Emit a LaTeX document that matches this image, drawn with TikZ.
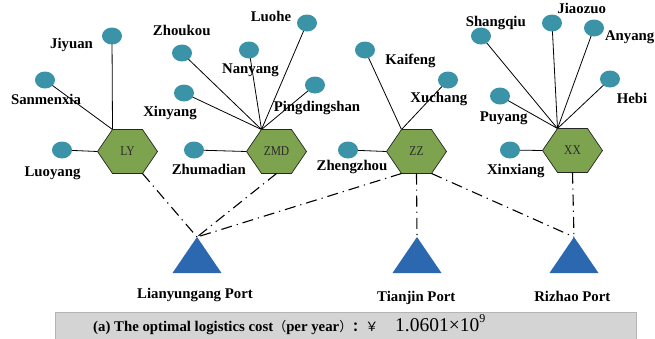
\documentclass[tikz,border=0pt]{standalone}
\usepackage{fontspec}
\setmainfont{Liberation Serif}
\newfontfamily\hexfont[FakeStretch=0.85]{Liberation Serif}
\newfontfamily\cjkfont{Noto Sans CJK SC}
\usetikzlibrary{calc,backgrounds}
\definecolor{citycol}{HTML}{3A93A7}
\definecolor{hexcol}{HTML}{7DA34F}
\definecolor{portcol}{HTML}{2C68B0}
\definecolor{boxgray}{HTML}{D4D4D4}
\definecolor{boxedge}{HTML}{B4B4B4}
\definecolor{hextext}{HTML}{2B2B2B}
\tikzset{
  city/.style={ellipse, fill=citycol, minimum width=20pt, minimum height=17pt, inner sep=0pt},
  lbl/.style={font=\bfseries\fontsize{14.8}{16}\selectfont, anchor=base, inner sep=0pt},
  hexlbl/.style={font=\hexfont\fontsize{13.5}{14}\selectfont, text=hextext, inner sep=0pt},
  hexshape/.style={fill=hexcol, draw=black!85, line width=0.7pt},
  link/.style={line width=0.8pt, black},
  route/.style={line width=1.1pt, black, dash pattern=on 11pt off 5pt on 1.2pt off 5pt},
  portshape/.style={fill=portcol},
}
\usetikzlibrary{shapes.geometric}
\begin{document}
\begin{tikzpicture}[x=1pt,y=-1pt]
\useasboundingbox (0,0) rectangle (655,338);

% hexagon centres (labels)
\node[hexlbl] (ly)  at (127.5,151.5) {LY};
\node[hexlbl] (zmd) at (276.5,151.5) {ZMD};
\node[hexlbl] (zz)  at (416.5,151.5) {ZZ};
\node[hexlbl] (xx)  at (572.5,150.5) {XX};

% hexagon vertices
\foreach \h in {ly,zmd,zz,xx}{
  \coordinate (\h-l)  at ($(\h)+(-30,0)$);
  \coordinate (\h-tl) at ($(\h)+(-15,-22)$);
  \coordinate (\h-tr) at ($(\h)+(15,-22)$);
  \coordinate (\h-r)  at ($(\h)+(30,0)$);
  \coordinate (\h-br) at ($(\h)+(15,22)$);
  \coordinate (\h-bl) at ($(\h)+(-15,22)$);
  \coordinate (\h-b)  at ($(\h)+(0,22)$);
}

% cities
\node[city] (jiyuan) at (112,36) {};
\node[city] (sanmenxia) at (45,80) {};
\node[city] (luoyang) at (62,150) {};
\node[city] (zhoukou) at (182,53) {};
\node[city] (nanyang) at (249,50) {};
\node[city] (luohe) at (307,23) {};
\node[city] (pingdingshan) at (315,85) {};
\node[city] (xinyang) at (184,93) {};
\node[city] (zhumadian) at (194,150) {};
\node[city] (kaifeng) at (365,50) {};
\node[city] (xuchang) at (448,80) {};
\node[city] (zhengzhou) at (348,150) {};
\node[city] (shangqiu) at (481,36) {};
\node[city] (jiaozuo) at (552,23) {};
\node[city] (anyang) at (594,28) {};
\node[city] (hebi) at (610,79) {};
\node[city] (puyang) at (500,96) {};
\node[city] (xinxiang) at (510,150) {};

% ports (apex coordinates)
\coordinate (lyg) at (197,237);
\coordinate (tj) at (417,237);
\coordinate (rz) at (574,237);
\foreach \p in {lyg,tj,rz}{
  \fill[portshape] (\p) -- ++(24.5,36) -- ++(-49,0) -- cycle;
}

\begin{pgfonlayer}{background}
  % city links
  \draw[link] (jiyuan.center) -- (ly-tl);
  \draw[link] (sanmenxia.center) -- (ly-tl);
  \draw[link] (luoyang.center) -- (ly-l);
  \foreach \c in {zhoukou,nanyang,luohe,pingdingshan,xinyang}{
    \draw[link] (\c.center) -- (zmd-tl);
  }
  \draw[link] (zhumadian.center) -- (zmd-l);
  \draw[link] (kaifeng.center) -- (zz-tl);
  \draw[link] (xuchang.center) -- (zz-tl);
  \draw[link] (zhengzhou.center) -- (zz-l);
  \foreach \c in {shangqiu,jiaozuo,anyang,hebi,puyang}{
    \draw[link] (\c.center) -- (xx-tl);
  }
  \draw[link] (xinxiang.center) -- (xx-l);
  % hexagons
  \foreach \h in {ly,zmd,zz,xx}{
    \draw[hexshape] (\h-l) -- (\h-tl) -- (\h-tr) -- (\h-r) -- (\h-br) -- (\h-bl) -- cycle;
  }
\end{pgfonlayer}

% routes
\draw[route] (ly-br) -- (lyg);
\draw[route] (zmd-b) -- (lyg);
\draw[route] (zz-bl) -- (lyg);
\draw[route] (zz-b) -- (tj);
\draw[route] (zz-br) -- (rz);
\draw[route] (xx-b) -- (rz);

% city labels
\node[lbl] (t-jiyuan) at (71.5,48) {Jiyuan};
\node[lbl] (t-sanmenxia) at (46,104) {Sanmenxia};
\node[lbl] (t-luoyang) at (52.5,176) {Luoyang};
\node[lbl] (t-zhoukou) at (181.7,35.7) {Zhoukou};
\node[lbl] (t-nanyang) at (250.5,73.3) {Nanyang};
\node[lbl] (t-luohe) at (271,21.7) {Luohe};
\node[lbl] (t-xinyang) at (170,116.7) {Xinyang};
\node[lbl] (t-pingdingshan) at (317,111) {Pingdingshan};
\node[lbl] (t-zhumadian) at (208.8,174) {Zhumadian};
\node[lbl] (t-zhengzhou) at (352,170.5) {Zhengzhou};
\node[lbl] (t-kaifeng) at (410.5,64.3) {Kaifeng};
\node[lbl] (t-xuchang) at (438.8,102.7) {Xuchang};
\node[lbl] (t-shangqiu) at (495.8,26.7) {Shangqiu};
\node[lbl] (t-jiaozuo) at (581.7,13.3) {Jiaozuo};
\node[lbl] (t-anyang) at (629.7,40.7) {Anyang};
\node[lbl] (t-hebi) at (632,103.3) {Hebi};
\node[lbl] (t-puyang) at (503.7,121.7) {Puyang};
\node[lbl] (t-xinxiang) at (515.8,174) {Xinxiang};
% port labels
\node[lbl] (t-lyg) at (195,298.3) {Lianyungang Port};
\node[lbl] (t-tj) at (416.3,301.7) {Tianjin Port};
\node[lbl] (t-rz) at (572.3,301.7) {Rizhao Port};

% cost box
\draw[fill=boxgray, draw=boxedge, line width=0.8pt] (55,312) rectangle (636,340);
\node[lbl, anchor=base west] (t-cost) at (93,331.5)
  {(a) The optimal logistics cost{\cjkfont\mdseries\fontsize{13}{13}\selectfont （}per year{\cjkfont\mdseries\fontsize{13}{13}\selectfont ）}{\cjkfont\bfseries\fontsize{13}{13}\selectfont ：}{\cjkfont\mdseries\fontsize{13}{13}\selectfont ￥}};
\node[anchor=base west, inner sep=0pt, font=\fontsize{19.5}{20}\selectfont] (t-value) at (395,331.5)
  {1.0601×10\raisebox{0.48em}{\fontsize{12}{12}\selectfont 9}};
\end{tikzpicture}
\end{document}
